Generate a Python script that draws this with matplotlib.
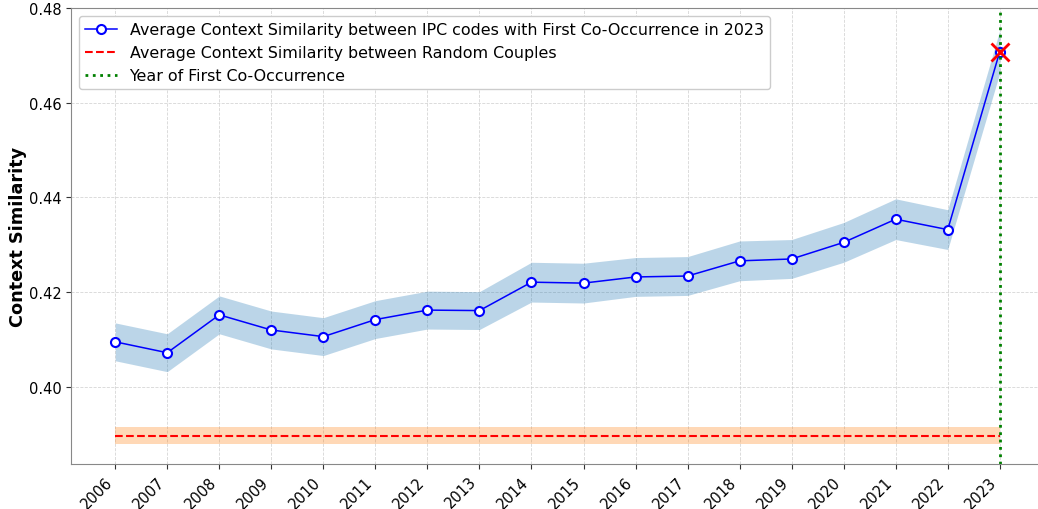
import matplotlib

matplotlib.use('Agg')
import matplotlib.pyplot as plt
import numpy as np

# Data
years = list(range(2006, 2024))
avg_sim = [0.4095, 0.4072, 0.4152, 0.4120, 0.4106, 0.4142, 0.4162, 0.4161, 0.4221, 0.4219,
           0.4232, 0.4234, 0.4266, 0.4270, 0.4305, 0.4354, 0.4332, 0.4708]
avg_err = [0.0040, 0.0040, 0.0040, 0.0040, 0.0040, 0.0040, 0.0040, 0.0040, 0.0042, 0.0042,
           0.0041, 0.0041, 0.0042, 0.0041, 0.0042, 0.0043, 0.0042, 0.0045]
random_mean = 0.3897
random_err = 0.0018
first_year = 2023

avg_sim = np.array(avg_sim)
avg_err = np.array(avg_err)

fig = plt.figure(figsize=(10.38, 5.10), dpi=100)
ax = fig.add_axes([71 / 1038, 1 - 465 / 510, (1044 - 71) / 1038, (465 - 9) / 510])

ax.fill_between(years, avg_sim - avg_err, avg_sim + avg_err, color='#1f77b4', alpha=0.3, linewidth=0)
ax.plot(years, avg_sim, color='blue', linewidth=1.1, marker='o', markersize=6.5,
        markerfacecolor='white', markeredgecolor='blue', markeredgewidth=1.5,
        label='Average Context Similarity between IPC codes with First Co-Occurrence in 2023')

ax.fill_between(years, random_mean - random_err, random_mean + random_err,
                color='#ff7f0e', alpha=0.3, linewidth=0)
ax.plot(years, [random_mean] * len(years), color='red', linestyle='--', linewidth=1.5,
        label='Average Context Similarity between Random Couples')

ax.axvline(first_year, color='green', linestyle=':', linewidth=2, label='Year of First Co-Occurrence')
ax.plot([first_year], [avg_sim[-1]], marker='x', color='red', markersize=13, markeredgewidth=2)

ax.set_xlim(2005.15, 2023.85)
ax.set_ylim(0.3837, 0.48)
ax.set_xticks(years)
ax.set_xticklabels([str(y) for y in years], rotation=45, ha='right', fontsize=10.5)
ax.set_yticks([0.40, 0.42, 0.44, 0.46, 0.48])
ax.set_yticklabels(['0.40', '0.42', '0.44', '0.46', '0.48'], fontsize=10.5)
ax.set_ylabel('Context Similarity', fontsize=12.7, fontweight='bold', labelpad=1)
ax.tick_params(colors='#333333', labelcolor='black')

ax.grid(True, linestyle='--', color='#cccccc', linewidth=0.6, alpha=0.8)
ax.set_axisbelow(True)
for spine in ax.spines.values():
    spine.set_color('#888888')
ax.spines['right'].set_visible(False)

legend = ax.legend(loc='upper left', fontsize=11.4, framealpha=1.0, edgecolor='#cccccc')

plt.savefig('out.png', dpi=100)
